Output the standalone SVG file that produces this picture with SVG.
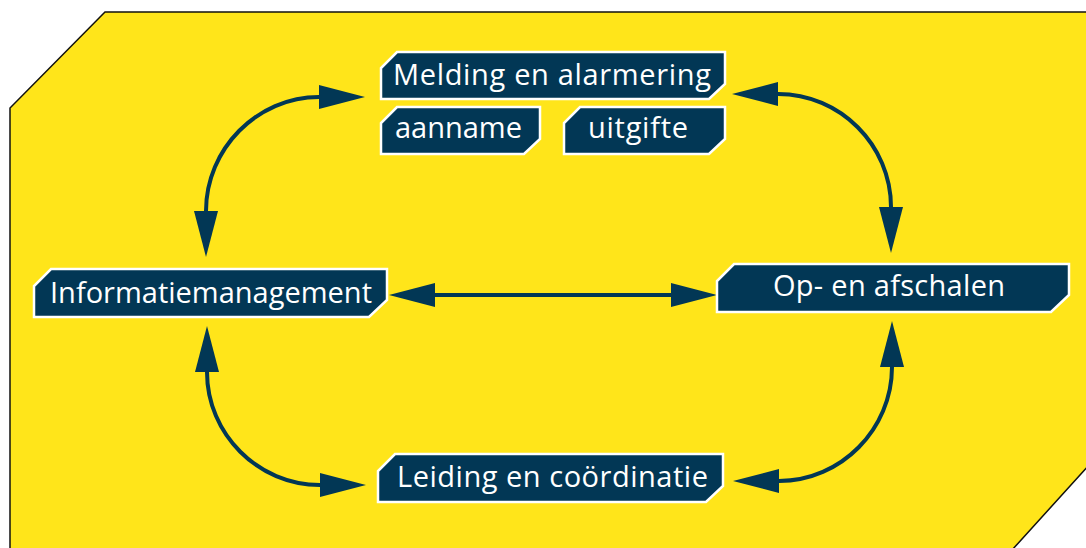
<svg xmlns="http://www.w3.org/2000/svg" width="1086" height="548" viewBox="0 0 1086 548">
<style>
.box{fill:#023755;stroke:#ffffff;stroke-width:2.5}
.lbl{font-family:"Open Sans","Noto Sans",sans-serif;font-size:29px;fill:#ffffff}
.con{fill:none;stroke:#023755;stroke-width:4;marker-start:url(#ah);marker-end:url(#ah)}
</style>
<defs>
<marker id="ah" markerUnits="userSpaceOnUse" markerWidth="48" markerHeight="26" refX="0" refY="12" orient="auto-start-reverse" viewBox="0 0 48 26">
<path d="M0,0 L46,12 L0,24 Z" fill="#023755"/>
</marker>
</defs>
<rect x="0" y="0" width="1086" height="548" fill="#ffffff"/>
<polygon points="10,550 10,108 105,12 1090,12 1090,464 1012,550" fill="#ffe51a" stroke="#111111" stroke-width="1.5"/>
<g id="connectors">
<path class="con" d="M319,97 C257,97 206,149 206,211"/>
<path class="con" d="M778,94 C840,94 891,145 891,207"/>
<path class="con" d="M207,372 C207,434 258,485 320,485"/>
<path class="con" d="M892,367 C892,429 841,481 779,481"/>
<path class="con" d="M435,295 L671,295"/>
</g>
<g id="melding">
<polygon class="box" points="397,52 725,52 725,84 709,99 381,99 381,68"/>
<text class="lbl" x="393" y="85" textLength="318">Melding en alarmering</text>
</g>
<g id="aanname">
<polygon class="box" points="397,107 540,107 540,139 524,154 381,154 381,123"/>
<text class="lbl" x="395" y="138" textLength="127">aanname</text>
</g>
<g id="uitgifte">
<polygon class="box" points="580,107 725,107 725,139 709,154 564,154 564,123"/>
<text class="lbl" x="588" y="138" textLength="100">uitgifte</text>
</g>
<g id="informatiemanagement">
<polygon class="box" points="51,269 387,269 387,300 369,317 34,317 34,286"/>
<text class="lbl" x="50" y="303" textLength="322">Informatiemanagement</text>
</g>
<g id="opafschalen">
<polygon class="box" points="734,264 1069,264 1069,295 1051,312 717,312 717,281"/>
<text class="lbl" x="773" y="296" textLength="232">Op- en afschalen</text>
</g>
<g id="leiding">
<polygon class="box" points="395,454 723,454 723,486 706,502 378,502 378,471"/>
<text class="lbl" x="397" y="487" textLength="311">Leiding en coördinatie</text>
</g>
</svg>
